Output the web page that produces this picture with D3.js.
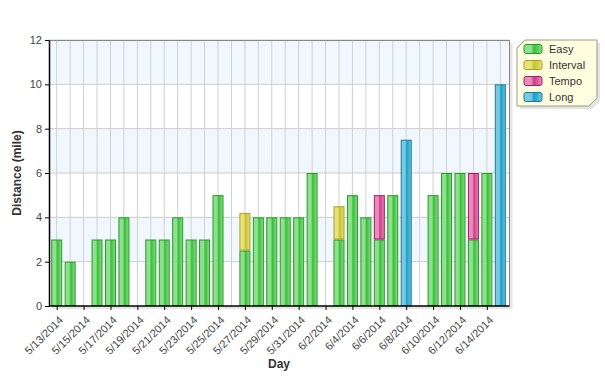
<!DOCTYPE html>
<html lang="en">
<head>
<meta charset="UTF-8">
<title>Distance per day</title>
<script src="https://d3js.org/d3.v7.min.js"></script>
<style>
    body { margin: 0; background: #fff; }
    svg { font-family: Arial, "Liberation Sans", sans-serif; }
</style>
</head>
<body>
<svg id="chart" width="605" height="386"></svg>
<script>
// data
const days = ["5/13/2014","5/14/2014","5/15/2014","5/16/2014","5/17/2014","5/18/2014","5/19/2014",
    "5/20/2014","5/21/2014","5/22/2014","5/23/2014","5/24/2014","5/25/2014","5/26/2014","5/27/2014",
    "5/28/2014","5/29/2014","5/30/2014","5/31/2014","6/1/2014","6/2/2014","6/3/2014","6/4/2014",
    "6/5/2014","6/6/2014","6/7/2014","6/8/2014","6/9/2014","6/10/2014","6/11/2014","6/12/2014",
    "6/13/2014","6/14/2014","6/15/2014"];
const easy     = [3,2,0,3,3,4,0,3,3,4,3,3,5,0,2.5,4,4,4,4,6,0,3,5,4,3,5,0,0,5,6,6,3,6,0];
const interval = [0,0,0,0,0,0,0,0,0,0,0,0,0,0,1.7,0,0,0,0,0,0,1.5,0,0,0,0,0,0,0,0,0,0,0,0];
const tempo    = [0,0,0,0,0,0,0,0,0,0,0,0,0,0,0,0,0,0,0,0,0,0,0,0,2,0,0,0,0,0,0,3,0,0];
const long     = [0,0,0,0,0,0,0,0,0,0,0,0,0,0,0,0,0,0,0,0,0,0,0,0,0,0,7.5,0,0,0,0,0,0,10];
const seriesNames = ["Easy","Interval","Tempo","Long"];
const yTicks = [0,2,4,6,8,10,12];

const colors = {
    Easy:     {light: "#8ee08e", base: "#5fcf5f", dark: "#3cbd3c", stroke: "#279a27"},
    Interval: {light: "#e6e27a", base: "#d6d04e", dark: "#c8c238", stroke: "#a8a22a"},
    Tempo:    {light: "#ec8cbc", base: "#dd5f9f", dark: "#cc3f86", stroke: "#a21d62"},
    Long:     {light: "#7cc8de", base: "#3db4d6", dark: "#1c9ec4", stroke: "#17789a"}
};

const svg = d3.select("#chart");
const plot = {left: 49, right: 509.5, top: 40, bottom: 306};

const x = d3.scalePoint().domain(days).range([56.7, 500.3]);
const y = d3.scaleLinear().domain([0, 12]).range([plot.bottom, plot.top]);
const barW = 11;

// gradients
const defs = svg.append("defs");
seriesNames.forEach(name => {
    const c = colors[name];
    const g = defs.append("linearGradient").attr("id", "g" + name)
        .attr("x1", "0%").attr("x2", "100%").attr("y1", "0%").attr("y2", "0%");
    [[0, c.light], [0.4, c.light], [0.48, c.base], [0.56, c.dark], [0.78, c.base], [1, c.light]]
        .forEach(s => g.append("stop").attr("offset", s[0]).attr("stop-color", s[1]));
});

// plot shadow + background
svg.append("rect")
    .attr("x", plot.left + 3).attr("y", plot.top + 3)
    .attr("width", plot.right - plot.left).attr("height", plot.bottom - plot.top)
    .attr("fill", "#e6e6e6");
svg.append("rect")
    .attr("x", plot.left).attr("y", plot.top)
    .attr("width", plot.right - plot.left).attr("height", plot.bottom - plot.top)
    .attr("fill", "#fff");

// alternating stripes
for (let i = 0; i < yTicks.length - 1; i++) {
    if (i % 2 === 1) {
        svg.append("rect")
            .attr("x", plot.left).attr("y", y(yTicks[i + 1]))
            .attr("width", plot.right - plot.left).attr("height", y(yTicks[i]) - y(yTicks[i + 1]))
            .attr("fill", "#f1f8fd");
    }
}

// grid
svg.append("g").selectAll("line").data(days).join("line")
    .attr("x1", d => x(d)).attr("x2", d => x(d))
    .attr("y1", plot.top).attr("y2", plot.bottom)
    .attr("stroke", "#d0d0d0");
svg.append("g").selectAll("line").data(yTicks.slice(1)).join("line")
    .attr("x1", plot.left).attr("x2", plot.right)
    .attr("y1", d => y(d)).attr("y2", d => y(d))
    .attr("stroke", "#cccccc");

// frame
svg.append("line").attr("x1", plot.left).attr("x2", plot.right)
    .attr("y1", plot.top + 0.5).attr("y2", plot.top + 0.5).attr("stroke", "#888");
svg.append("line").attr("x1", plot.right).attr("x2", plot.right)
    .attr("y1", plot.top).attr("y2", plot.bottom).attr("stroke", "#888");

// stacked bars
const table = days.map((d, i) => ({day: d, Easy: easy[i], Interval: interval[i], Tempo: tempo[i], Long: long[i]}));
const stacked = d3.stack().keys(seriesNames)(table);

svg.append("g").selectAll("g").data(stacked).join("g")
    .attr("fill", s => "url(#g" + s.key + ")")
    .attr("stroke", s => colors[s.key].stroke)
    .selectAll("rect").data(s => s.filter(p => p[1] > p[0])).join("rect")
    .attr("x", p => x(p.data.day) - barW / 2 + 0.5)
    .attr("y", p => y(p[1]) + 0.5)
    .attr("width", barW - 1)
    .attr("height", p => y(p[0]) - y(p[1]) - 1);

// axes
const yAxis = svg.append("g").attr("transform", `translate(${plot.left},0)`)
    .call(d3.axisLeft(y).tickValues(yTicks).tickSize(4).tickSizeOuter(0));
yAxis.select(".domain").attr("stroke", "#000").attr("stroke-width", 1.5);
yAxis.selectAll(".tick line").attr("stroke", "#000");
yAxis.selectAll("text").attr("fill", "#444").style("font-size", "11px");

const xTickDays = days.filter((d, i) => i % 2 === 0 && i < 33);
const xAxis = svg.append("g").attr("transform", `translate(0,${plot.bottom})`)
    .call(d3.axisBottom(x).tickValues(xTickDays).tickSize(4).tickSizeOuter(0));
xAxis.select(".domain").attr("stroke", "#000").attr("stroke-width", 1.5)
    .attr("d", `M${plot.left},0H${plot.right}`);
xAxis.selectAll(".tick line").attr("stroke", "#000");
xAxis.selectAll("text")
    .attr("fill", "#444").style("font-size", "11px")
    .attr("text-anchor", "end")
    .attr("dy", "0.35em")
    .attr("transform", "translate(4,12) rotate(-45)")
    .attr("x", 0).attr("y", 0);

// axis titles
svg.append("text").attr("x", 279).attr("y", 368)
    .attr("text-anchor", "middle").attr("font-weight", "bold").attr("font-size", 12)
    .attr("fill", "#333").text("Day");
svg.append("text").attr("transform", "translate(21,173) rotate(-90)")
    .attr("text-anchor", "middle").attr("font-weight", "bold").attr("font-size", 12)
    .attr("fill", "#333").text("Distance (mile)");

// legend
const lg = {x: 517, y: 40, w: 80, h: 66, cut: 8};
const legendPath = (ox, oy) => `M${lg.x + lg.cut + ox},${lg.y + oy}H${lg.x + lg.w + ox}V${lg.y + lg.h - lg.cut + oy}` +
    `L${lg.x + lg.w - lg.cut + ox},${lg.y + lg.h + oy}H${lg.x + ox}V${lg.y + lg.cut + oy}Z`;
svg.append("path").attr("d", legendPath(3, 3)).attr("fill", "#e4e4e4");
svg.append("path").attr("d", legendPath(0, 0)).attr("fill", "#ffffe0").attr("stroke", "#9a9a8a");

const items = svg.append("g").selectAll("g").data(seriesNames).join("g")
    .attr("transform", (d, i) => `translate(${lg.x + 7},${lg.y + 9 + i * 16})`);
items.append("rect").attr("x", 0).attr("y", -4.5).attr("width", 18).attr("height", 9)
    .attr("rx", 2).attr("fill", d => "url(#g" + d + ")").attr("stroke", d => colors[d].stroke);
items.append("text").attr("x", 25).attr("y", 0).attr("dy", "0.35em")
    .attr("font-size", 11).attr("fill", "#333").text(d => d);
</script>
</body>
</html>
